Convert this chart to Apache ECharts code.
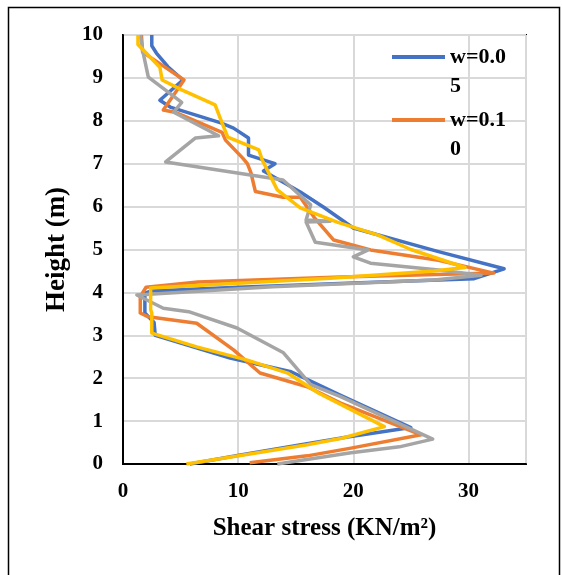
<!DOCTYPE html>
<html>
<head>
<meta charset="utf-8">
<script src="https://cdn.jsdelivr.net/npm/echarts@6/dist/echarts.min.js"></script>
<style>
html,body{margin:0;padding:0;background:#fff;}
#c{width:562px;height:575px;}
</style>
</head>
<body>
<div id="c"></div>
<script>
// Series names
var seriesNames = ['w=0.05', 'w=0.10', 'w=0.15', 'w=0.20'];
var legendLabels = [['w=0.0', '5'], ['w=0.1', '0']];

// x ticks / y ticks
var xTicks = [0, 10, 20, 30];
var yTicks = [0, 1, 2, 3, 4, 5, 6, 7, 8, 9, 10];

// w=0.05 (blue): shear stress, height
var blueX = [2.5, 2.5, 2.9, 3.9, 5.2, 3.2, 4.1, 8.5, 9.6, 10.9, 10.9, 13.2, 12.2, 15.4, 17.4, 20.0, 27.4, 33.1, 30.5, 20.0, 10.0, 2.4, 1.9, 1.9, 2.7, 2.8, 9.3, 14.6, 18.9, 25.0, 19.5, 15.2, 10.2, 5.8];
var blueH = [10, 9.75, 9.58, 9.26, 8.95, 8.48, 8.32, 7.95, 7.83, 7.6, 7.2, 7.0, 6.83, 6.34, 5.99, 5.5, 4.95, 4.55, 4.32, 4.22, 4.12, 4.03, 3.98, 3.52, 3.3, 3.0, 2.47, 2.15, 1.6, 0.85, 0.63, 0.44, 0.21, 0.0];

// w=0.10 (orange)
var orangeX = [1.6, 1.7, 3.1, 5.3, 3.5, 4.5, 8.6, 8.9, 10.4, 10.8, 11.1, 11.5, 13.9, 15.4, 16.6, 18.3, 21.5, 27.4, 32.2, 18.9, 6.5, 2.0, 1.5, 1.5, 2.2, 6.4, 9.6, 11.9, 16.0, 18.9, 25.9, 19.8, 16.0, 11.0];
var orangeH = [10, 9.6, 9.35, 8.95, 8.25, 8.2, 7.73, 7.55, 7.13, 7.0, 6.8, 6.35, 6.22, 6.22, 5.75, 5.22, 4.99, 4.75, 4.45, 4.36, 4.24, 4.12, 3.9, 3.52, 3.43, 3.28, 2.66, 2.12, 1.8, 1.42, 0.68, 0.37, 0.19, 0.03];

// w=0.15 (gray)
var grayX = [1.5, 1.7, 2.2, 5.1, 4.4, 8.3, 6.3, 3.7, 13.9, 16.3, 15.9, 18.0, 15.9, 16.7, 21.3, 20.0, 21.5, 27.4, 31.1, 27.0, 13.0, 1.2, 3.5, 5.7, 9.9, 13.9, 16.3, 18.9, 26.9, 24.0, 19.8, 13.4];
var grayH = [10, 9.65, 9.02, 8.43, 8.2, 7.65, 7.6, 7.04, 6.62, 6.04, 5.69, 5.66, 5.64, 5.17, 4.99, 4.83, 4.68, 4.52, 4.4, 4.29, 4.13, 3.94, 3.63, 3.55, 3.17, 2.6, 1.85, 1.57, 0.58, 0.4, 0.26, 0.0];

// w=0.20 (yellow)
var yellowX = [1.3, 1.3, 3.2, 3.4, 5.1, 8.0, 8.6, 9.1, 11.8, 12.1, 13.4, 15.4, 18.6, 22.1, 25.0, 29.7, 27.0, 18.0, 2.4, 2.4, 2.5, 2.5, 6.4, 10.8, 14.3, 17.0, 22.7, 19.0, 16.0, 10.2, 5.5];
var yellowH = [10, 9.78, 9.25, 8.95, 8.72, 8.37, 7.95, 7.62, 7.32, 7.08, 6.39, 5.97, 5.64, 5.34, 5.0, 4.58, 4.5, 4.33, 4.1, 3.6, 3.52, 3.05, 2.73, 2.42, 2.12, 1.65, 0.87, 0.6, 0.45, 0.2, 0.0];

var colors = ['#4472C4', '#ED7D31', '#A5A5A5', '#FFC000'];

function pairs(xs, hs) {
  var out = [];
  for (var i = 0; i < xs.length; i++) out.push([xs[i], hs[i]]);
  return out;
}
var allData = [pairs(blueX, blueH), pairs(orangeX, orangeH), pairs(grayX, grayH), pairs(yellowX, yellowH)];

var font = '"Liberation Serif", "Times New Roman", serif';

var chart = echarts.init(document.getElementById('c'), null, {renderer: 'canvas'});

var series = allData.map(function (d, i) {
  return {
    name: seriesNames[i],
    type: 'line',
    data: d,
    showSymbol: false,
    symbol: 'none',
    smooth: false,
    clip: false,
    lineStyle: {color: colors[i], width: 3.5, join: 'round'},
    itemStyle: {color: colors[i]},
    z: 3 + i,
    animation: false
  };
});

var gridL = 123, gridT = 35, gridR = 36, gridB = 111;

var graphics = [
  {type: 'rect', left: 6, top: 5, shape: {x: 0, y: 0, width: 551, height: 620}, style: {fill: 'none', stroke: '#000', lineWidth: 1.5}, z: 0, silent: true}
];
var legendTop = [57, 120];
legendLabels.forEach(function (lab, i) {
  graphics.push({type: 'line', shape: {x1: 392, y1: legendTop[i], x2: 445, y2: legendTop[i]}, style: {stroke: colors[i], lineWidth: 4}, z: 100});
  graphics.push({type: 'text', style: {text: lab[0] + '\n' + lab[1], font: 'bold 22px ' + font, fill: '#000', lineHeight: 29}, z: 100, top: legendTop[i] - 14, left: 450});
});

chart.setOption({
  animation: false,
  backgroundColor: '#fff',
  grid: {left: gridL, top: gridT, right: gridR, bottom: gridB, show: true, borderColor: '#000', borderWidth: 2, backgroundColor: 'transparent'},
  xAxis: {
    type: 'value', min: 0, max: 35, interval: 10,
    name: 'Shear stress (KN/m\u00B2)', nameLocation: 'middle', nameGap: 52,
    nameTextStyle: {fontFamily: font, fontWeight: 'bold', fontSize: 25, color: '#000'},
    axisLine: {show: true, onZero: false, lineStyle: {color: '#000', width: 2}},
    axisTick: {show: false},
    axisLabel: {fontFamily: font, fontWeight: 'bold', fontSize: 21, color: '#000', margin: 17, showMaxLabel: false,
      formatter: function (v) { return xTicks.indexOf(v) >= 0 ? String(v) : ''; }},
    splitLine: {show: true, lineStyle: {color: '#D9D9D9', width: 2}}
  },
  yAxis: {
    type: 'value', min: 0, max: 10, interval: 1,
    name: 'Height (m)', nameLocation: 'middle', nameGap: 52,
    nameTextStyle: {fontFamily: font, fontWeight: 'bold', fontSize: 27, color: '#000'},
    axisLine: {show: true, onZero: false, lineStyle: {color: '#000', width: 2}},
    axisTick: {show: false},
    axisLabel: {fontFamily: font, fontWeight: 'bold', fontSize: 21, color: '#000', margin: 20,
      formatter: function (v) { return yTicks.indexOf(v) >= 0 ? String(v) : ''; }},
    splitLine: {show: true, lineStyle: {color: '#D9D9D9', width: 2}}
  },
  legend: {show: false, data: seriesNames.slice(0, 2)},
  graphic: graphics,
  series: series
});
</script>
</body>
</html>
